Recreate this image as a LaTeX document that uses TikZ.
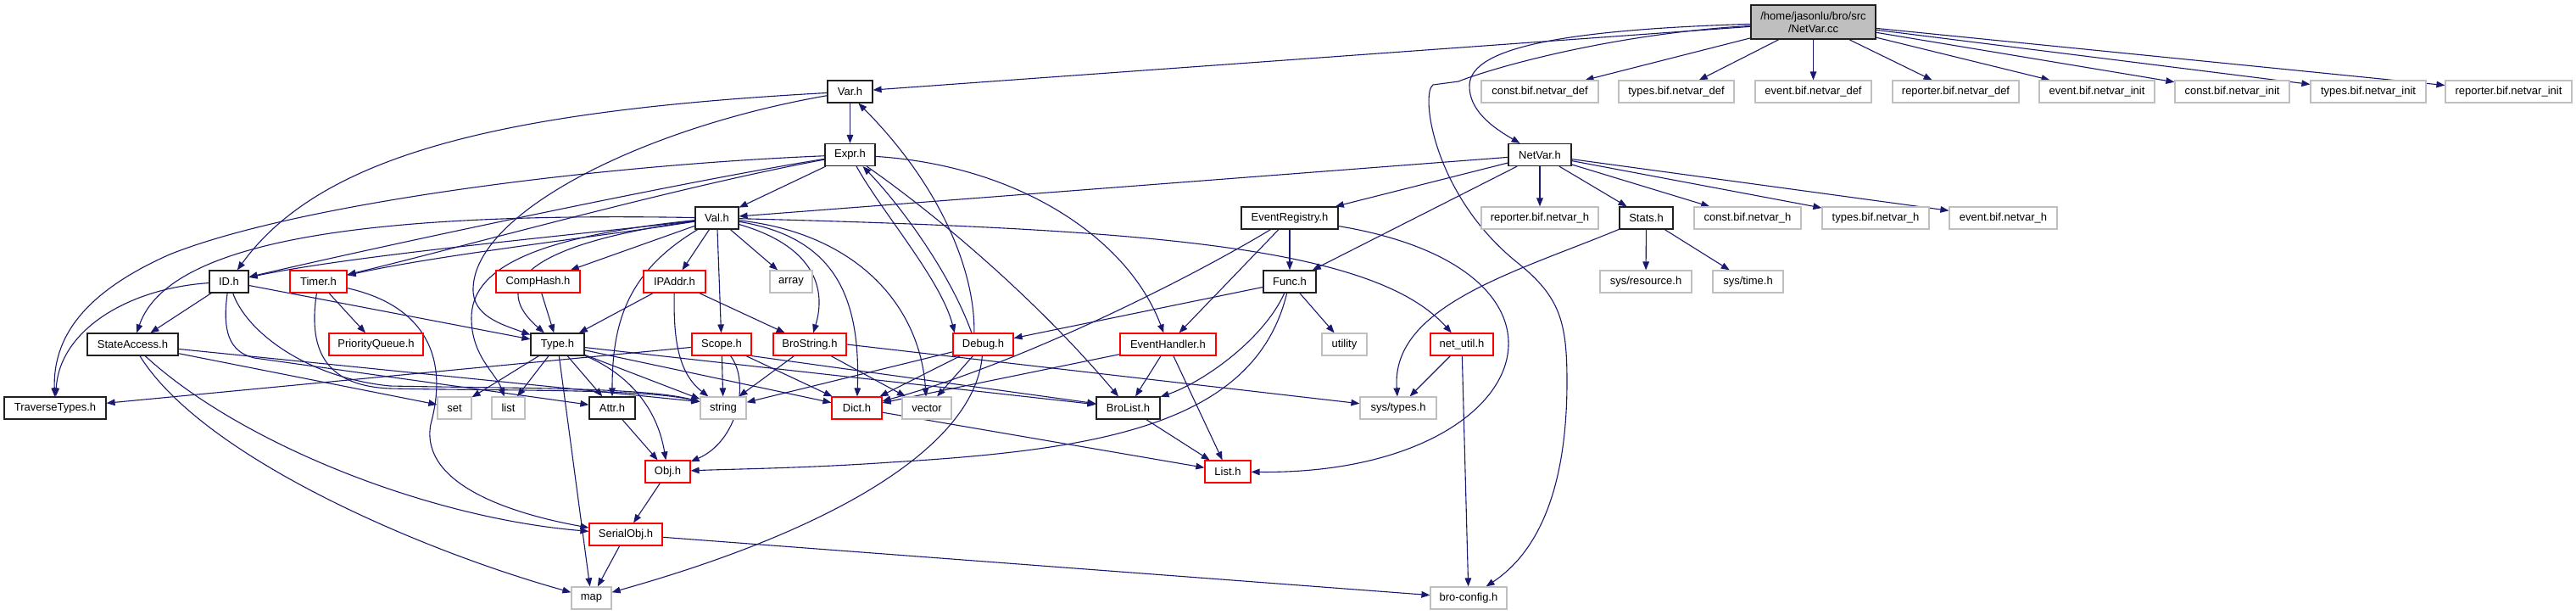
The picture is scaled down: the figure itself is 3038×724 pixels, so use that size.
\documentclass[tikz,border=0pt]{standalone}
\usepackage{fontspec}
\setmainfont{Liberation Sans}
\usetikzlibrary{arrows.meta}
\pgfdeclarelayer{bg}
\pgfsetlayers{bg,main}
\definecolor{edgec}{HTML}{191970}
\definecolor{grayb}{HTML}{BFBFBF}
\definecolor{ccfill}{HTML}{BFBFBF}
\definecolor{blkb}{HTML}{202020}
\begin{document}
\begin{tikzpicture}[x=0.5pt,y=0.5pt,
 base/.style={rectangle, inner sep=0pt, minimum height=13pt, font=\fontsize{6.5pt}{7.5pt}\selectfont, line width=0.6pt, fill=white},
 bk/.style={base, draw=blkb},
 rd/.style={base, draw=red},
 gr/.style={base, draw=grayb},
 wd/.style={minimum width=#1*0.5pt},
 e/.style={draw=edgec, line width=0.55pt, -{Triangle[length=5pt,width=3.8pt]}}]
\useasboundingbox (0,0) rectangle (3038,-724);
% ---------- nodes ----------
\node[bk,wd=147,minimum height=20pt,fill=ccfill,align=center] (cc) at (2138.5,-26) {/home/jasonlu/bro/src\\/NetVar.cc};
% row 108
\node[bk,wd=53] (var) at (1002.5,-108) {Var.h};
\node[gr,wd=138] (cbd) at (1816,-108) {const.bif.netvar\_def};
\node[gr,wd=136] (tbd) at (1977,-108) {types.bif.netvar\_def};
\node[gr,wd=137] (ebd) at (2138.5,-108) {event.bif.netvar\_def};
\node[gr,wd=149] (rbd) at (2306.5,-108) {reporter.bif.netvar\_def};
\node[gr,wd=136] (ebi) at (2473,-108) {event.bif.netvar\_init};
\node[gr,wd=135] (cbi) at (2632.5,-108) {const.bif.netvar\_init};
\node[gr,wd=136] (tbi) at (2793,-108) {types.bif.netvar\_init};
\node[gr,wd=149] (rbi) at (2958.5,-108) {reporter.bif.netvar\_init};
% row 182
\node[bk,wd=59] (expr) at (1002.5,-182.5) {Expr.h};
\node[bk,wd=74] (netvar) at (1816,-182.5) {NetVar.h};
% row 257
\node[bk,wd=51] (val) at (845.5,-257) {Val.h};
\node[bk,wd=114] (er) at (1521,-257) {EventRegistry.h};
\node[gr,wd=138] (rbh) at (1816,-257) {reporter.bif.netvar\_h};
\node[bk,wd=63] (stats) at (1941.5,-257) {Stats.h};
\node[gr,wd=126] (cbh) at (2061,-257) {const.bif.netvar\_h};
\node[gr,wd=126] (tbh) at (2212,-257) {types.bif.netvar\_h};
\node[gr,wd=127] (ebh) at (2362.5,-257) {event.bif.netvar\_h};
% row 332
\node[bk,wd=46] (id) at (270,-332) {ID.h};
\node[rd,wd=67] (timer) at (375.5,-332) {Timer.h};
\node[rd,wd=99] (comphash) at (634.5,-332) {CompHash.h};
\node[rd,wd=73] (ipaddr) at (795.5,-332) {IPAddr.h};
\node[gr,wd=50] (array) at (933,-332) {array};
\node[bk,wd=62] (func) at (1521,-332) {Func.h};
\node[gr,wd=108] (sysres) at (1941,-332) {sys/resource.h};
\node[gr,wd=83] (systime) at (2061.5,-332) {sys/time.h};
% row 406
\node[bk,wd=107] (sa) at (156.5,-406) {StateAccess.h};
\node[rd,wd=111] (pq) at (443.5,-406) {PriorityQueue.h};
\node[bk,wd=63] (type) at (657.5,-406) {Type.h};
\node[rd,wd=70] (scope) at (851,-406) {Scope.h};
\node[rd,wd=86] (brostr) at (955,-406) {BroString.h};
\node[rd,wd=71] (debug) at (1159.5,-406) {Debug.h};
\node[rd,wd=113] (eh) at (1377.5,-406) {EventHandler.h};
\node[gr,wd=53] (utility) at (1585.5,-406) {utility};
\node[rd,wd=74] (netutil) at (1724,-406) {net\_util.h};
% row 481
\node[bk,wd=120] (trav) at (65,-481) {TraverseTypes.h};
\node[gr,wd=40] (set) at (536,-481) {set};
\node[gr,wd=39] (list) at (599.5,-481) {list};
\node[bk,wd=54] (attr) at (722,-481) {Attr.h};
\node[gr,wd=54] (string) at (853,-481) {string};
\node[rd,wd=59] (dict) at (1010.5,-481) {Dict.h};
\node[gr,wd=58] (vector) at (1093,-481) {vector};
\node[bk,wd=75] (brolist) at (1330.5,-481) {BroList.h};
\node[gr,wd=90] (systypes) at (1649,-481) {sys/types.h};
% row 556
\node[rd,wd=53] (obj) at (787.5,-556) {Obj.h};
\node[rd,wd=54] (listh) at (1448,-556) {List.h};
% row 630
\node[rd,wd=86] (serial) at (738,-630) {SerialObj.h};
% row 705
\node[gr,wd=47] (map) at (697.5,-705) {map};
\node[gr,wd=90] (brocfg) at (1732,-705) {bro-config.h};
% ---------- edges ----------
\begin{pgfonlayer}{bg}
\fill[white] (0,0) rectangle (3038,-724);
% NetVar.cc
\draw[e] (cc) -- (var);
\draw[e] (cc) .. controls (1850,-35) and (1735,-55) .. (1733,-100) .. controls (1732,-130) and (1760,-150) .. (netvar);
\draw[e] (cc) -- (cbd);
\draw[e] (cc) -- (tbd);
\draw[e] (cc) -- (ebd);
\draw[e] (cc) -- (rbd);
\draw[e] (cc) -- (ebi);
\draw[e] (cc) -- (cbi);
\draw[e] (cc) -- (tbi);
\draw[e] (cc) -- (rbi);
\draw[e] (cc) .. controls (1900,-40) and (1760,-80) .. (1720,-96) -- (1690,-100) .. controls (1675,-110) and (1690,-230) .. (1790,-310) .. controls (1840,-350) and (1848,-380) .. (1848,-450) .. controls (1848,-600) and (1800,-660) .. (brocfg);
% Var.h
\draw[e] (var) -- (expr);
\draw[e] (var) .. controls (600,-130) and (380,-180) .. (id);
\draw[e] (var) .. controls (760,-150) and (560,-250) .. (558,-340) .. controls (557,-372) and (590,-382) .. (type);
% Expr.h
\draw[e] (expr) -- (val);
\draw[e] (expr) .. controls (800,-215) and (450,-290) .. (id);
\draw[e] (expr) .. controls (800,-220) and (550,-290) .. (timer);
\draw[e] (expr) .. controls (700,-195) and (350,-240) .. (200,-300) .. controls (110,-340) and (62,-390) .. (trav);
\draw[e] (expr) .. controls (1040,-250) and (1110,-330) .. (debug.158);
\draw[e] (expr) .. controls (1100,-250) and (1220,-350) .. (brolist);
\draw[e] (expr) .. controls (1200,-195) and (1330,-280) .. (eh);
% Debug.h back edges
\draw[e] (debug.135) .. controls (1120,-320) and (1060,-240) .. (expr.-42);
\draw[e] (debug.128) .. controls (1150,-320) and (1110,-220) .. (var.-54);
% Val.h
\draw[e] (val) .. controls (700,-275) and (420,-300) .. (id);
\draw[e] (val) .. controls (700,-280) and (520,-300) .. (timer);
\draw[e] (val) .. controls (450,-250) and (200,-280) .. (sa);
\draw[e] (val) .. controls (640,-285) and (570,-330) .. (type);
\draw[e] (val) .. controls (620,-280) and (556,-320) .. (556,-375) .. controls (556,-420) and (585,-440) .. (list);
\draw[e] (val) -- (comphash);
\draw[e] (val) -- (ipaddr);
\draw[e] (val) -- (array);
\draw[e] (val) -- (scope);
\draw[e] (val) .. controls (740,-320) and (722,-380) .. (attr);
\draw[e] (val) .. controls (960,-290) and (975,-340) .. (brostr);
\draw[e] (val) .. controls (985,-280) and (1015,-350) .. (dict);
\draw[e] (val) .. controls (1010,-275) and (1085,-360) .. (vector);
\draw[e] (val) .. controls (1350,-270) and (1620,-290) .. (netutil);
% NetVar.h
\draw[e] (netvar) -- (val);
\draw[e] (netvar) -- (er);
\draw[e] (netvar) -- (func);
\draw[e] (netvar) -- (rbh);
\draw[e] (netvar) -- (stats);
\draw[e] (netvar) -- (cbh);
\draw[e] (netvar) -- (tbh);
\draw[e] (netvar) -- (ebh);
% EventRegistry.h
\draw[e] (er) -- (func);
\draw[e] (er) -- (eh);
\draw[e] (er) .. controls (1400,-330) and (1200,-430) .. (dict);
\draw[e] (er) .. controls (1900,-320) and (1810,-560) .. (listh);
% Stats.h
\draw[e] (stats) -- (sysres);
\draw[e] (stats) -- (systime);
\draw[e] (stats) .. controls (1790,-320) and (1640,-360) .. (systypes);
% Func.h
\draw[e] (func) -- (debug);
\draw[e] (func) -- (utility);
\draw[e] (func) .. controls (1490,-400) and (1420,-450) .. (brolist);
\draw[e] (func) .. controls (1480,-500) and (1300,-530) .. (1050,-545) .. controls (950,-552) and (860,-553) .. (obj);
% EventHandler.h
\draw[e] (eh) -- (brolist);
\draw[e] (eh) -- (listh);
\draw[e] (eh) -- (dict);
% Debug.h
\draw[e] (debug) -- (dict);
\draw[e] (debug) -- (vector);
\draw[e] (debug) -- (string);
\draw[e] (debug) .. controls (1150,-520) and (1000,-620) .. (map);
% BroString.h
\draw[e] (brostr) -- (string);
\draw[e] (brostr) -- (vector);
\draw[e] (brostr.east) -- (systypes);
% Scope.h
\draw[e] (scope) -- (trav);
\draw[e] (scope) -- (string);
\draw[e] (scope) .. controls (885,-450) and (870,-520) .. (obj);
\draw[e] (scope) -- (dict);
\draw[e] (scope.south east) -- (brolist);
% IPAddr.h
\draw[e] (ipaddr) -- (type);
\draw[e] (ipaddr) .. controls (794,-400) and (800,-440) .. (string);
\draw[e] (ipaddr) -- (brostr);
% CompHash.h
\draw[e] (comphash) -- (type);
% Timer.h
\draw[e] (timer) -- (pq);
\draw[e] (timer) .. controls (500,-360) and (530,-420) .. (508,-500) .. controls (495,-570) and (600,-605) .. (serial);
\draw[e] (timer) .. controls (362,-420) and (390,-455) .. (460,-458) .. controls (600,-461) and (760,-458) .. (string.165);
% ID.h
\draw[e] (id) .. controls (150,-340) and (70,-390) .. (trav);
\draw[e] (id) -- (sa);
\draw[e] (id) -- (type);
\draw[e] (id) .. controls (262,-390) and (270,-415) .. (300,-422) -- (attr);
\draw[e] (id) .. controls (290,-390) and (360,-445) .. (460,-455) .. controls (600,-458) and (760,-456) .. (string.165);
% StateAccess.h
\draw[e] (sa) -- (set);
\draw[e] (sa) -- (string.165);
\draw[e] (sa) .. controls (280,-520) and (500,-610) .. (serial);
\draw[e] (sa) .. controls (240,-540) and (500,-650) .. (map);
% Type.h
\draw[e] (type) -- (set);
\draw[e] (type) -- (list);
\draw[e] (type) -- (attr);
\draw[e] (type) -- (string);
\draw[e] (type) .. controls (740,-440) and (775,-480) .. (obj);
\draw[e] (type) -- (map);
\draw[e] (type) -- (dict);
\draw[e] (type) -- (brolist);
% the rest
\draw[e] (attr) -- (obj);
\draw[e] (obj) -- (serial);
\draw[e] (serial) -- (map);
\draw[e] (serial) -- (brocfg);
\draw[e] (dict) -- (listh);
\draw[e] (brolist) -- (listh);
\draw[e] (netutil) -- (systypes);
\draw[e] (netutil) -- (brocfg);
\end{pgfonlayer}
\end{tikzpicture}
\end{document}
